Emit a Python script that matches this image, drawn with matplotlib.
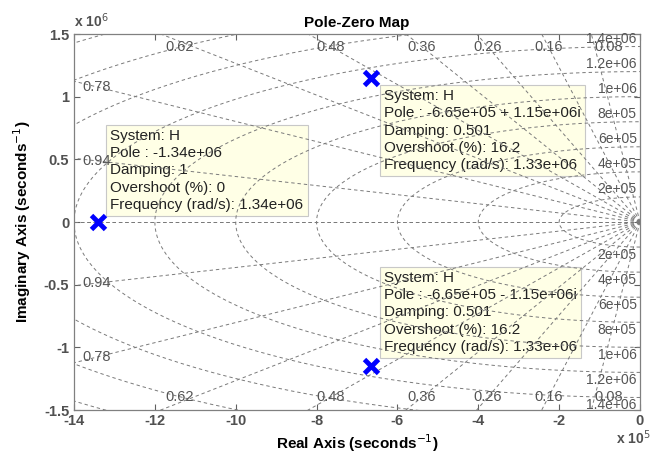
import numpy as np
import matplotlib
matplotlib.use('Agg')
from matplotlib import pyplot as plt

plt.rcParams['font.family'] = ['Liberation Sans', 'DejaVu Sans']
plt.rcParams['axes.unicode_minus'] = False

# poles of H (rad/s)
poles = [-1.34e6 + 0j, -6.652e5 + 1.149e6j, -6.652e5 - 1.149e6j]

# grid: damping rays and natural frequency arcs
zetas = [0.08, 0.16, 0.26, 0.36, 0.48, 0.62, 0.78, 0.94]
wns = [2e5, 4e5, 6e5, 8e5, 1e6, 1.2e6, 1.4e6, 1.6e6, 1.8e6, 2e6]
wn_labels = ['2e+05', '4e+05', '6e+05', '8e+05', '1e+06', '1.2e+06', '1.4e+06']

xticks = [-14, -12, -10, -8, -6, -4, -2, 0]
yticks = [-1.5, -1, -0.5, 0, 0.5, 1, 1.5]

XS = 1e5  # real axis scale
YS = 1e6  # imaginary axis scale

gridkw = dict(color='#7a7a7a', lw=0.7, ls=(0, (3.5, 3)), zorder=2)
labcol = '#555555'

fig = plt.figure(figsize=(6.58, 4.54), dpi=100)
ax = fig.add_axes([74/658, 44/454, 566/658, 376/454])
ax.set_xlim(-14, 0)
ax.set_ylim(-1.5, 1.5)

# damping rays
r = np.array([0, 5e6])
for z in zetas + [1.0]:
    s = np.sqrt(1 - z**2)
    ax.plot(-z*r/XS, s*r/YS, **gridkw)
    ax.plot(-z*r/XS, -s*r/YS, **gridkw)

# natural frequency arcs
th = np.linspace(-np.pi/2, np.pi/2, 400)
for wn in wns:
    ax.plot(-wn*np.cos(th)/XS, wn*np.sin(th)/YS, **gridkw)

# damping labels
ytop = 1.398
for z in zetas:
    slope = np.sqrt(1 - z**2) / z
    xr = -ytop*YS/slope/XS
    if xr > -13.0:
        ha = 'center'
        if z == 0.62:
            ha = 'right'
        elif z == 0.08:
            ha = 'left'
        for sg in (1, -1):
            ax.text(xr, sg*ytop, '%g' % z, ha=ha, va='center',
                    fontsize=10.5, color=labcol, zorder=4)
    else:
        xl = -13.45
        yl = -xl*XS*slope/YS
        for sg in (1, -1):
            ax.text(xl, sg*yl, '%g' % z, ha='center', va='center',
                    fontsize=10.5, color=labcol, zorder=4)

# frequency labels
for wn, lab in zip(wns, wn_labels):
    ax.annotate(lab, xy=(-0.08, wn/YS), xytext=(0, 1), textcoords='offset pixels',
                ha='right', va='bottom', fontsize=10, color=labcol, zorder=4)
    ax.annotate(lab, xy=(-0.08, -wn/YS), xytext=(0, -1), textcoords='offset pixels',
                ha='right', va='top', fontsize=10, color=labcol, zorder=4)

# poles
px = [p.real/XS for p in poles]
py = [p.imag/YS for p in poles]
ax.plot(px, py, 'x', color='#0000ff', ms=10, mew=3.5, zorder=5)


def tip_text(p):
    wn = abs(p)
    z = -p.real / wn
    if z >= 1:
        os_ = 0.0
    else:
        os_ = np.exp(-np.pi*z/np.sqrt(1 - z**2)) * 100
    if p.imag == 0:
        ptxt = '%.3g' % p.real
    else:
        sign = '+' if p.imag > 0 else '-'
        ptxt = '%.3g %s %.3gi' % (p.real, sign, abs(p.imag))
    return ('System: H\nPole : %s\nDamping: %.3g\nOvershoot (%%): %.3g\n'
            'Frequency (rad/s): %.3g' % (ptxt, z, os_, wn))


tipkw = dict(textcoords='offset pixels', ha='left', fontsize=11, color='#222222',
             linespacing=1.3, zorder=1,
             bbox=dict(boxstyle='square,pad=0.28', fc='#ffffe6', ec='#c8c8c8', lw=0.8))
offsets = [((12, 10), 'bottom'), ((13, -11), 'top'), ((13, 12), 'bottom')]
for p, (off, va) in zip(poles, offsets):
    ax.annotate(tip_text(p), xy=(p.real/XS, p.imag/YS), xytext=off, va=va, **tipkw)

ax.set_xticks(xticks)
ax.set_yticks(yticks)
ax.set_xticklabels(['%g' % v for v in xticks])
ax.set_yticklabels(['%g' % v for v in yticks])
ax.tick_params(direction='in', top=True, right=True, length=4, width=0.8,
               colors='#606060', labelsize=10.5, labelcolor='#505050')
ax.tick_params(axis='x', pad=3)
for lab in ax.get_xticklabels() + ax.get_yticklabels():
    lab.set_fontweight('bold')
for sp in ax.spines.values():
    sp.set_color('#808080')
    sp.set_linewidth(0.9)

ax.set_title('Pole-Zero Map', fontsize=11, fontweight='bold', pad=5)
ax.set_xlabel('Real Axis (seconds$^{-1}$)', fontsize=11, fontweight='bold', labelpad=3)
ax.set_ylabel('Imaginary Axis (seconds$^{-1}$)', fontsize=11, fontweight='bold', labelpad=8)
ax.text(0.0, 1.01, r'x 10$^{6}$', transform=ax.transAxes, ha='left', va='bottom',
        fontsize=10, fontweight='bold', color='#505050')
ax.text(0.988, -0.074, r'x 10$^{5}$', transform=ax.transAxes, ha='center', va='center',
        fontsize=10, fontweight='bold', color='#505050')

fig.savefig('out.png', dpi=100)
